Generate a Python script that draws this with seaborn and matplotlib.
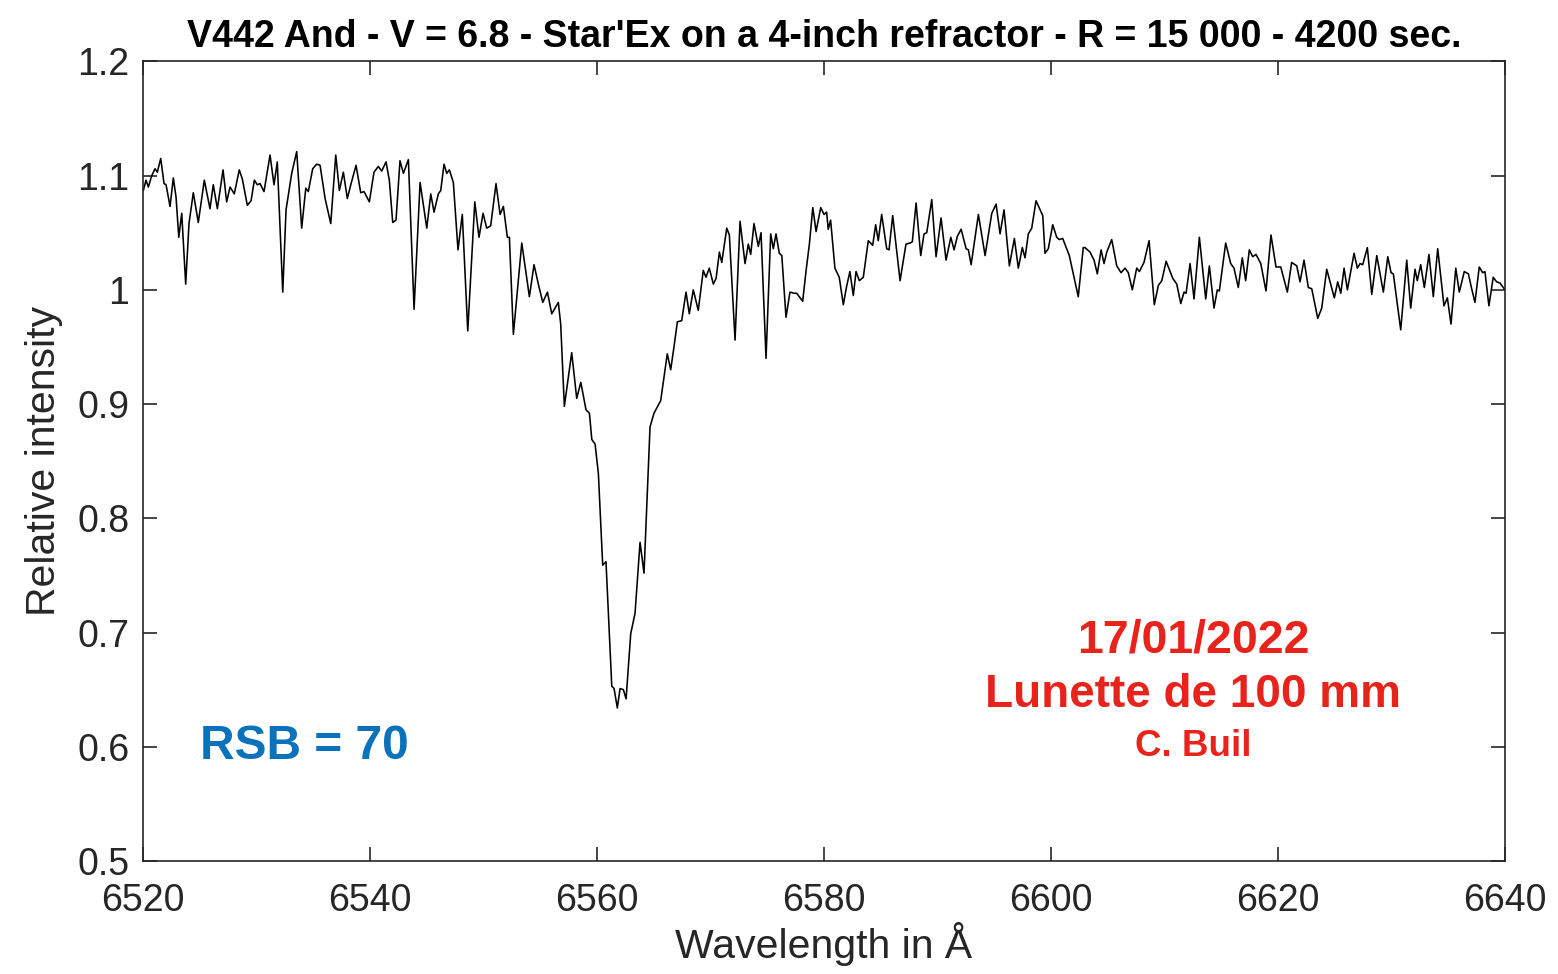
import matplotlib
matplotlib.use("Agg")
import matplotlib.pyplot as plt
import seaborn as sns
import numpy as np

wavelength = [
6520.03,6520.26,6520.47,6520.77,6521.06,6521.26,6521.56,6521.85,6522.03,6522.38,
6522.67,6522.91,6523.15,6523.41,6523.76,6524.05,6524.43,6524.87,6525.40,6525.90,
6526.19,6526.55,6527.05,6527.37,6527.67,6528.04,6528.48,6528.75,6529.19,6529.52,
6529.81,6530.07,6530.31,6530.66,6531.19,6531.54,6531.83,6532.31,6532.60,6533.10,
6533.54,6533.98,6534.34,6534.56,6534.95,6535.30,6535.60,6536.04,6536.54,6536.98,
6537.30,6537.65,6538.00,6538.33,6538.77,6539.18,6539.47,6539.94,
6540.35,6540.73,6541.03,6541.41,6541.70,6542.00,6542.29,6542.64,6542.94,6543.38,
6543.88,6544.41,6545.00,6545.35,6545.64,6546.02,6546.23,6546.52,6546.76,6546.99,
6547.34,6547.75,6548.13,6548.61,6549.23,6549.60,6549.96,6550.28,6550.63,6551.10,
6551.46,6551.75,6552.10,6552.28,6552.63,6553.37,6554.04,6554.45,6554.83,6555.22,
6555.63,6556.01,6556.59,
6556.80,6557.12,6557.77,6558.21,6558.57,6559.03,6559.33,6559.54,6559.83,6560.12,
6560.50,6560.79,6561.30,6561.50,6561.79,6562.03,6562.32,6562.56,6562.97,6563.35,
6563.79,6564.14,6564.38,6564.67,6565.02,6565.40,6565.61,6566.19,6566.49,6566.78,
6567.08,6567.46,6567.84,6568.13,
6568.48,6568.92,6569.36,6569.60,6569.89,6570.25,6570.49,6570.78,6570.99,6571.43,
6571.66,6572.16,6572.60,6573.04,6573.33,6573.54,6573.83,6574.21,6574.45,6574.89,
6575.30,6575.53,6575.77,6576.06,6576.28,6576.65,6577.00,6577.36,6577.59,6577.82,
6578.12,6578.42,6578.71,6579.01,6579.30,6579.71,6580.00,6580.23,6580.37,6580.58,
6580.96,6581.34,6581.70,6581.99,6582.28,6582.58,6582.82,6583.11,
6583.46,6583.90,6584.29,6584.55,6584.78,6585.08,6585.52,6585.73,6586.05,6586.70,
6587.22,6587.58,6587.78,6588.11,6588.52,6588.81,6589.05,6589.49,6589.87,6590.31,
6590.75,6591.17,6591.46,6591.75,6592.08,6592.52,6592.72,6592.96,6593.60,6594.19,
6594.78,6595.16,6595.51,6595.86,6596.33,6596.77,6597.12,6597.47,6597.71,6598.00,
6598.30,6598.68,6599.27,6599.47,6599.76,6600.15,6600.50,6600.73,6601.03,6601.61,
6602.40,6602.84,
6602.99,6603.44,6603.79,6604.08,6604.41,6604.67,6604.91,6605.35,6605.79,6606.17,
6606.52,6606.81,6607.16,6607.55,6607.78,6608.19,6608.64,6609.10,6609.46,6609.76,
6610.14,6610.73,6611.08,6611.43,6611.72,6611.90,6612.25,6612.60,6613.07,6613.63,
6613.95,6614.36,6614.65,6614.83,6615.39,6615.83,6616.12,6616.50,6616.85,6617.15,
6617.47,6617.77,6618.06,6618.48,6618.94,6619.38,6619.82,6620.24,6620.82,6621.20,
6621.65,6621.94,6622.29,6622.67,6622.97,6623.50,6623.85,6624.29,6624.64,6624.96,
6625.26,6625.53,6625.82,6626.11,6626.70,6626.99,6627.23,6627.46,6627.87,6628.26,
6628.70,6629.28,6629.67,6629.96,6630.16,6630.81,6631.34,6631.69,6632.07,6632.27,
6632.57,6632.89,6633.30,6633.68,6634.07,6634.62,6634.92,6635.24,6635.66,6635.97,
6636.41,6636.77,6637.06,6637.35,6637.73,6638.03,6638.23,6638.58,6638.96,6639.26,
6639.55,6640.00,
]

intensity = [
1.087,1.096,1.090,1.100,1.106,1.103,1.115,1.093,1.092,1.073,
1.098,1.081,1.046,1.067,1.005,1.058,1.085,1.059,1.096,1.071,
1.092,1.071,1.105,1.077,1.090,1.084,1.105,1.097,1.074,1.078,
1.096,1.092,1.093,1.086,1.118,1.092,1.112,0.998,1.070,1.102,
1.121,1.054,1.089,1.086,1.106,1.110,1.109,1.080,1.058,1.118,
1.087,1.103,1.080,1.093,1.109,1.085,1.086,1.077,
1.103,1.108,1.104,1.112,1.096,1.059,1.061,1.113,1.102,1.114,
0.983,1.094,1.054,1.084,1.068,1.084,1.087,1.110,1.102,1.105,
1.094,1.035,1.066,0.964,1.077,1.046,1.067,1.054,1.056,1.093,
1.066,1.073,1.046,1.046,0.961,1.041,0.994,1.022,1.005,0.989,
0.998,0.979,0.989,
0.970,0.898,0.945,0.905,0.919,0.895,0.892,0.869,0.865,0.839,
0.759,0.762,0.653,0.651,0.634,0.651,0.650,0.642,0.699,0.717,
0.779,0.752,0.810,0.880,0.892,0.899,0.903,0.944,0.930,0.950,
0.972,0.973,0.998,0.979,
1.000,0.982,1.017,1.011,1.019,1.005,1.010,1.033,1.024,1.054,
1.048,0.956,1.060,1.023,1.040,1.031,1.058,1.038,1.050,0.940,
1.049,1.036,1.049,1.032,1.030,0.976,0.998,0.997,0.997,0.994,
0.990,1.017,1.040,1.072,1.051,1.072,1.066,1.068,1.053,1.061,
1.019,1.011,0.987,1.003,1.016,0.995,1.016,1.008,
1.011,1.043,1.039,1.057,1.043,1.066,1.036,1.035,1.065,1.008,
1.040,1.041,1.042,1.076,1.030,1.049,1.050,1.079,1.029,1.063,
1.026,1.046,1.035,1.047,1.053,1.036,1.035,1.022,1.066,1.030,
1.067,1.075,1.049,1.070,1.021,1.045,1.019,1.037,1.028,1.049,
1.054,1.078,1.065,1.032,1.036,1.057,1.046,1.044,1.045,1.030,
0.994,1.037,
1.037,1.033,1.026,1.014,1.035,1.023,1.033,1.044,1.021,1.015,
1.019,1.015,1.000,1.019,1.016,1.024,1.043,0.987,1.004,1.008,
1.025,1.010,1.005,0.988,0.998,0.997,1.023,0.992,1.046,0.992,
1.021,0.984,1.000,0.999,1.041,1.023,1.019,1.002,1.028,1.008,
1.035,1.029,1.031,1.023,0.999,1.048,1.020,1.020,0.998,1.024,
1.021,1.007,1.026,1.002,1.001,0.975,0.984,1.018,1.005,0.993,
1.007,0.997,1.019,1.000,1.032,1.019,1.023,1.022,1.037,0.996,
1.030,0.998,1.029,1.015,1.014,0.965,1.026,0.984,1.018,1.008,
1.022,1.002,1.031,0.994,1.036,0.986,0.993,0.970,1.019,0.998,
1.016,1.014,1.001,0.989,1.020,1.015,1.016,0.986,1.011,1.007,
1.006,1.000,
]

x_ticks = [6520, 6540, 6560, 6580, 6600, 6620, 6640]
y_ticks = [0.5, 0.6, 0.7, 0.8, 0.9, 1.0, 1.1, 1.2]
y_tick_labels = ["0.5", "0.6", "0.7", "0.8", "0.9", "1", "1.1", "1.2"]

title = "V442 And - V = 6.8 - Star'Ex on a 4-inch refractor - R = 15 000 - 4200 sec."
x_label = "Wavelength in Å"
y_label = "Relative intensity"

sns.set_theme(style="ticks")
plt.rcParams['font.family'] = ['Liberation Sans', 'DejaVu Sans']

fig = plt.figure(figsize=(15.58, 9.74), dpi=100)
ax = fig.add_axes([0.0918, 0.116, 0.8742, 0.821])

sns.lineplot(x=wavelength, y=intensity, ax=ax, color="black", linewidth=1.15,
             estimator=None, sort=False)

gray = "#262626"
ax.set_xlim(6520, 6640)
ax.set_ylim(0.5, 1.2)
ax.set_xticks(x_ticks)
ax.set_xticklabels([str(t) for t in x_ticks])
ax.set_yticks(y_ticks)
ax.set_yticklabels(y_tick_labels)
ax.tick_params(direction="in", length=10, width=1.2, colors=gray,
               labelsize=27, top=True, right=True)
ax.tick_params(axis="x", pad=16)
ax.tick_params(axis="y", pad=10)
for s in ax.spines.values():
    s.set_visible(True)
    s.set_linewidth(1.2)
    s.set_color(gray)

ax.set_xlabel(x_label, fontsize=29.5, color=gray, labelpad=2)
ax.set_ylabel(y_label, fontsize=29.5, color=gray, labelpad=10)
ax.set_title(title, fontsize=27, fontweight="bold", color="black", pad=10)

ax.text(6525.0, 0.6006, "RSB = 70", color="#0a72ba", fontsize=34.5,
        fontweight="bold", ha="left", va="center")
red = "#e8231b"
ax.text(6612.5, 0.693, "17/01/2022", color=red, fontsize=33.5,
        fontweight="bold", ha="center", va="center")
ax.text(6612.5, 0.645, "Lunette de 100 mm", color=red, fontsize=33,
        fontweight="bold", ha="center", va="center")
ax.text(6612.5, 0.600, "C. Buil", color=red, fontsize=26.5,
        fontweight="bold", ha="center", va="center")

fig.savefig("out.png", dpi=100, facecolor="white")
